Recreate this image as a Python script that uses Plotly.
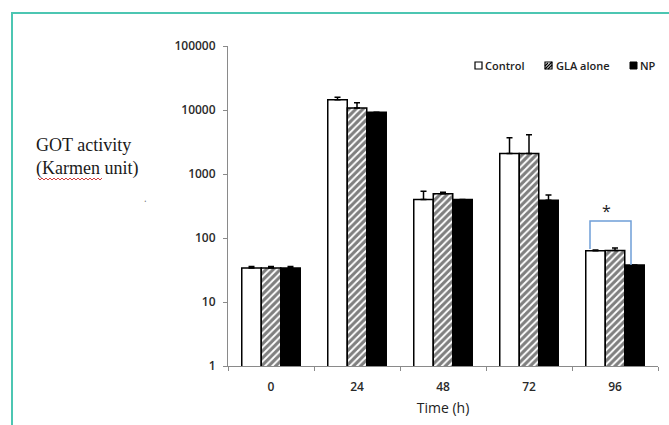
import plotly.graph_objects as go

# ---- data ----
times = ["0", "24", "48", "72", "96"]
control = [34, 14500, 400, 2100, 63]
control_err = [2, 1300, 140, 1600, 2]
gla = [34, 10700, 490, 2100, 64]
gla_err = [2, 2300, 30, 2000, 6]
np_vals = [34, 9200, 400, 390, 38]
np_err = [2, 0, 0, 80, 0]
ytick_vals = [1, 10, 100, 1000, 10000, 100000]
ytick_text = ["1", "10", "100", "1000", "10000", "100000"]

W, H = 669, 425
L, R, T, B = 228, 11, 46, 59
PW, PH = W - L - R, H - T - B


def px(x):
    return (x - L) / PW


def py(y):
    return (H - B - y) / PH


tick_font = dict(family="Open Sans", size=12, color="#2a2a2a", weight=600)

fig = go.Figure()
common = dict(marker_line=dict(color="black", width=1.5), showlegend=False)
fig.add_bar(x=times, y=control, name="Control", marker_color="white",
            error_y=dict(type="data", array=control_err, arrayminus=[0] * 5,
                         symmetric=False, color="black", thickness=1.5, width=3),
            **common)
fig.add_bar(x=times, y=gla, name="GLA alone",
            marker=dict(color="white",
                        pattern=dict(shape="/", fgcolor="black", bgcolor="white",
                                     size=5, solidity=0.62)),
            error_y=dict(type="data", array=gla_err, arrayminus=[0] * 5,
                         symmetric=False, color="black", thickness=1.5, width=3),
            **common)
fig.add_bar(x=times, y=np_vals, name="NP", marker_color="black",
            error_y=dict(type="data", array=np_err, arrayminus=[0] * 5,
                         symmetric=False, color="black", thickness=1.5, width=3),
            **common)

fig.update_layout(
    width=W, height=H,
    margin=dict(l=L, r=R, t=T, b=B),
    paper_bgcolor="white", plot_bgcolor="white",
    barmode="group", bargap=0.32, bargroupgap=0,
    font=dict(family="Open Sans", color="#404040"),
)
fig.update_yaxes(type="log", range=[0, 5], tickvals=ytick_vals, ticktext=ytick_text,
                 showline=True, linecolor="#8a8a8a", linewidth=1, ticks="outside",
                 ticklen=4, tickcolor="#8a8a8a", showgrid=False, zeroline=False,
                 tickfont=tick_font, ticklabelstandoff=5)
fig.update_xaxes(showline=True, linecolor="#8a8a8a", linewidth=1, ticks="outside",
                 tickson="boundaries", ticklen=4, tickcolor="#8a8a8a",
                 showgrid=False, tickfont=tick_font, ticklabelstandoff=10,
                 title=dict(text="Time (h)", font=dict(family="Open Sans", size=14,
                                                       color="#222222"),
                            standoff=8))

shapes = []
# teal frame
teal = "#4cc6b2"
shapes.append(dict(type="line", xref="paper", yref="paper", x0=px(11), x1=px(669),
                   y0=py(13), y1=py(13), line=dict(color=teal, width=2)))
shapes.append(dict(type="line", xref="paper", yref="paper", x0=px(12), x1=px(12),
                   y0=py(13), y1=py(425), line=dict(color=teal, width=2)))
# significance bracket
shapes.append(dict(type="path", xref="paper", yref="paper",
                   path=f"M {px(590)} {py(249)} L {px(590)} {py(221)} L {px(631)} {py(221)} L {px(631)} {py(265)}",
                   line=dict(color="#6f9fd8", width=1.5)))
# spell-check wavy underline under "Karmen"
zz = "M"
xs = list(range(38, 104, 2))
for i, xv in enumerate(xs):
    yv = 178 if i % 2 == 0 else 180
    zz += f" {px(xv)} {py(yv)}" if i == 0 else f" L {px(xv)} {py(yv)}"
shapes.append(dict(type="path", xref="paper", yref="paper", path=zz,
                   line=dict(color="#d04040", width=1)))

# manual legend swatches
lg_y0, lg_y1 = 62, 69
shapes.append(dict(type="rect", xref="paper", yref="paper", x0=px(475), x1=px(482),
                   y0=py(lg_y1), y1=py(lg_y0), line=dict(color="black", width=1.2),
                   fillcolor="white"))
shapes.append(dict(type="rect", xref="paper", yref="paper", x0=px(545), x1=px(552),
                   y0=py(lg_y1), y1=py(lg_y0), line=dict(color="black", width=1.2),
                   fillcolor="white"))
hp = f"M {px(545)} {py(66)} L {px(548)} {py(63)} M {px(545)} {py(69)} L {px(552)} {py(62)} M {px(548)} {py(69)} L {px(552)} {py(65)}"
shapes.append(dict(type="path", xref="paper", yref="paper", path=hp,
                   line=dict(color="black", width=1.3)))
shapes.append(dict(type="rect", xref="paper", yref="paper", x0=px(630), x1=px(637),
                   y0=py(lg_y1), y1=py(lg_y0), line=dict(color="black", width=1),
                   fillcolor="black"))
fig.update_layout(shapes=shapes)

ann = []
lg_font = dict(family="Open Sans", size=11, color="#222222", weight=600)
for xl, txt in [(483, "Control"), (554, "GLA alone"), (638, "NP")]:
    ann.append(dict(xref="paper", yref="paper", x=px(xl), y=py(65.5), text=txt,
                    showarrow=False, xanchor="left", yanchor="middle", font=lg_font))
serif = dict(family="Liberation Serif", size=18, color="#1a1a1a")
ann.append(dict(xref="paper", yref="paper", x=px(34), y=py(145), text="GOT activity",
                showarrow=False, xanchor="left", yanchor="middle", font=serif))
ann.append(dict(xref="paper", yref="paper", x=px(34), y=py(168), text="(Karmen unit)",
                showarrow=False, xanchor="left", yanchor="middle", font=serif))
ann.append(dict(xref="paper", yref="paper", x=px(606), y=py(211), text="*",
                showarrow=False, xanchor="center", yanchor="middle",
                font=dict(family="Open Sans", size=16, color="#222222")))
ann.append(dict(xref="paper", yref="paper", x=px(145), y=py(198), text=".",
                showarrow=False, xanchor="center", yanchor="middle",
                font=dict(family="Open Sans", size=10, color="#777777")))
fig.update_layout(annotations=ann)

fig.write_html("out.html", config={"displayModeBar": False},
               post_script="document.body.style.margin='0';document.body.style.overflow='hidden';")
